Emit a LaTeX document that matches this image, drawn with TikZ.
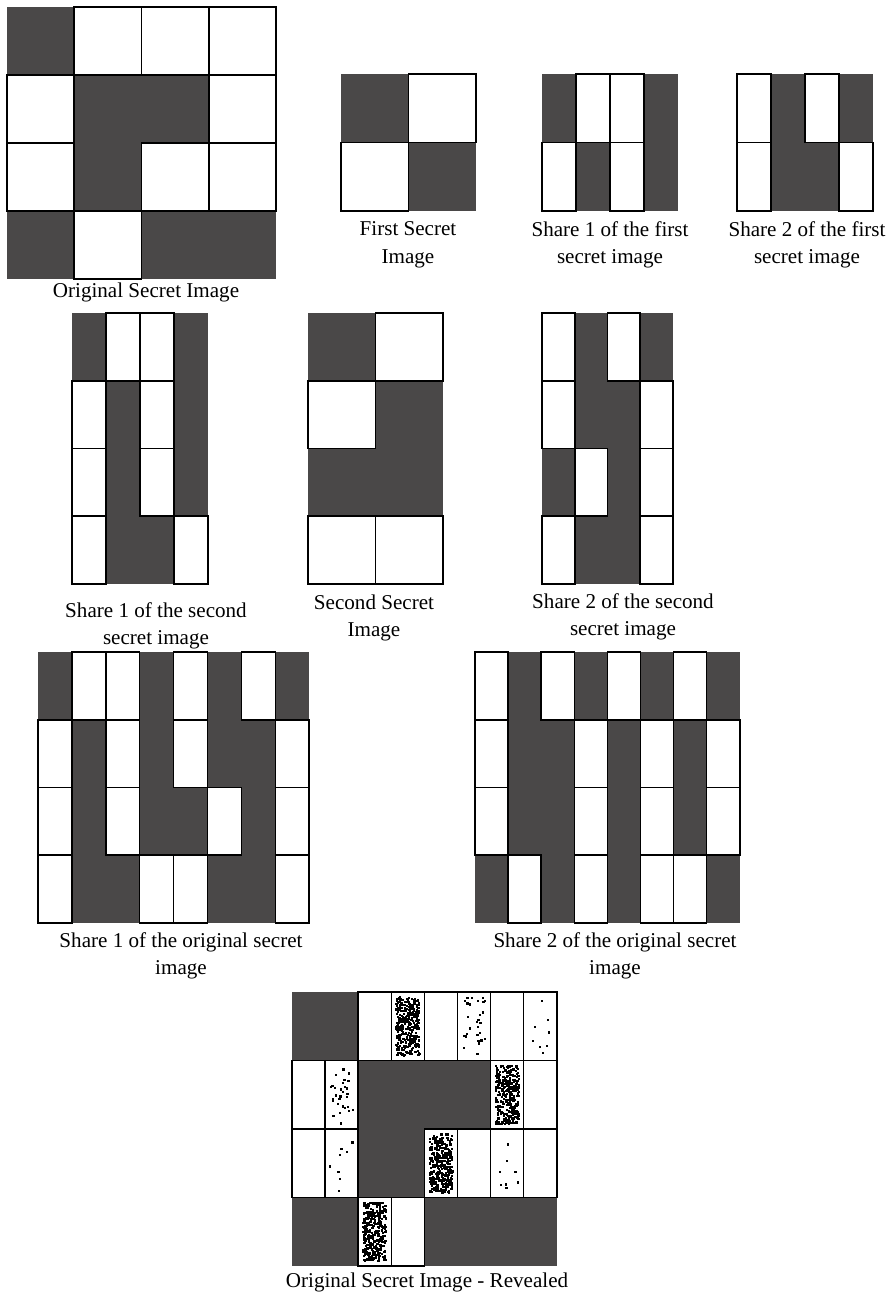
\documentclass[tikz,border=0pt]{standalone}
\usepackage{fontspec}
\setmainfont{Liberation Serif}
\usetikzlibrary{positioning}
\definecolor{darkcell}{HTML}{4A4848}
% #1,#2 top left corner, #3,#4 cell size, #5 rows (1 dark, 0 white, 2/3/4 speckled)
\newcommand{\vcgrid}[5]{%
  \foreach \cells [count=\r from 0] in {#5} {
    \foreach \v [count=\k from 0] in \cells {
      \ifnum\v=1 \fill[darkcell] ({#1+\k*#3},{#2+\r*#4}) rectangle ++(#3,#4); \fi
    }
  }
  \foreach \cells [count=\r from 0] in {#5} {
    \foreach \v [count=\k from 0] in \cells {
      \ifnum\v=1 \else
        \draw[cellline] ({#1+\k*#3},{#2+\r*#4}) rectangle ++(#3,#4);
        \ifnum\v>1
          \pgfmathtruncatemacro\ndots{(\v==2)*330+(\v==3)*30+(\v==4)*8}
          \foreach \d in {1,...,\ndots} {
            \pgfmathsetmacro\px{#1+\k*#3+4+rnd*(#3-10)}
            \pgfmathsetmacro\py{#2+\r*#4+4+rnd*(#4-10)}
            \fill[black] (\px,\py) rectangle ++(2.2,2.2);
          }
        \fi
      \fi
    }
  }%
}
\begin{document}
\begin{tikzpicture}[x=0.03cm,y=-0.03cm,
  cellline/.style={draw=black,line width=1.3pt},
  imgcap/.style={align=center,inner sep=0pt,font=\fontsize{18}{23.5}\selectfont}]
\useasboundingbox (0,0) rectangle (891,1298);
\pgfmathsetseed{42}
% top row
\vcgrid{7}{7}{67.25}{68}{{1,0,0,0},{0,1,1,0},{0,1,0,0},{1,0,1,1}}
\node[imgcap] (origcap) at (146,292) {Original Secret Image};
\vcgrid{341}{74}{67.5}{68.5}{{1,0},{0,1}}
\node[imgcap] (firstcap) at (408,245) {First Secret\\Image};
\vcgrid{542}{74}{34}{68.5}{{1,0,0,1},{0,1,0,1}}
\node[imgcap] (sharefirstA) at (610,245) {Share 1 of the first\\secret image};
\vcgrid{737}{74}{34}{68.5}{{0,1,0,1},{0,1,1,0}}
\node[imgcap] (sharefirstB) at (807,245) {Share 2 of the first\\secret image};
% second row
\vcgrid{72}{313}{34}{67.75}{{1,0,0,1},{0,1,0,1},{0,1,0,1},{0,1,1,0}}
\node[imgcap] (sharesecondA) at (156,626) {Share 1 of the second\\secret image};
\vcgrid{308}{313}{67.5}{67.75}{{1,0},{0,1},{1,1},{0,0}}
\node[imgcap] (secondcap) at (374,618) {Second Secret\\Image};
\vcgrid{542}{313}{32.75}{67.75}{{0,1,0,1},{0,1,1,0},{1,0,1,0},{0,1,1,0}}
\node[imgcap] (sharesecondB) at (623,617) {Share 2 of the second\\secret image};
% third row
\vcgrid{38}{652}{33.9}{67.75}{{1,0,0,1,0,1,0,1},{0,1,0,1,0,1,1,0},{0,1,0,1,1,0,1,0},{0,1,1,0,0,1,1,0}}
\node[imgcap] (shareorigA) at (181,956) {Share 1 of the original secret\\image};
\vcgrid{475}{652}{33.1}{67.75}{{0,1,0,1,0,1,0,1},{0,1,1,0,1,0,1,0},{0,1,1,0,1,0,1,0},{1,0,1,0,1,0,0,1}}
\node[imgcap] (shareorigB) at (615,956) {Share 2 of the original secret\\image};
% stacked shares
\vcgrid{292}{992}{33.1}{68.5}{{1,1,0,2,0,3,0,4},{0,3,1,1,1,1,2,0},{0,4,1,1,2,0,4,0},{1,1,2,0,1,1,1,1}}
\node[imgcap] (revealcap) at (427,1282) {Original Secret Image - Revealed};
\end{tikzpicture}
\end{document}
